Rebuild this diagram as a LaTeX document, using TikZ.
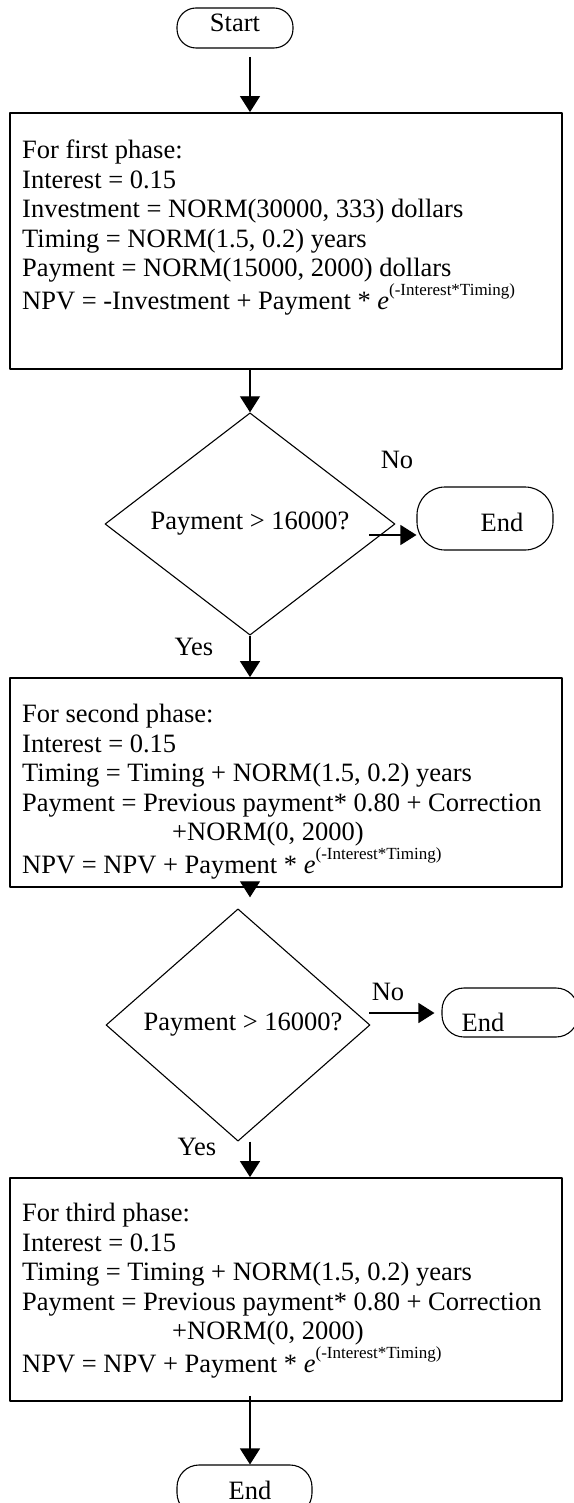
\documentclass[tikz,border=0pt]{standalone}
\usepackage{fontspec}
\setmainfont{Liberation Serif}
\usetikzlibrary{shapes,arrows.meta,calc,positioning}
\tikzset{phasebox/.style={
            draw,
            line width=1.8pt,
            minimum width=552pt,
            inner sep=0pt
        },
        phasetext/.style={
            anchor=north west,
            align=left,
            inner sep=0pt,
            font=\fontsize{26.5}{29.5}\selectfont
        },
        decision/.style={
            draw,
            diamond,
            line width=1.1pt,
            inner sep=0pt,
            font=\fontsize{26.5}{29.5}\selectfont
        },
        terminal/.style={
            draw,
            line width=1.1pt,
            inner sep=0pt,
            label distance=0pt
        },
        flow/.style={
            line width=1.3pt,
            -{Triangle[width=20pt,length=16pt]}
        },
        note/.style={
            inner sep=0pt,
            font=\fontsize{26.5}{29.5}\selectfont
        },
        every label/.style={
            inner sep=0pt,
            font=\fontsize{26.5}{29.5}\selectfont
        }
    }
\newcommand{\expterm}{\textit{e}\raisebox{14pt}{\fontsize{17}{17}\selectfont(-Interest*Timing)}}

\begin{document}
\begin{tikzpicture}[x=1pt,y=-1pt,line join=round]
\useasboundingbox (0,0) rectangle (573,1503);
% terminals
\node[terminal,rounded corners=19pt,minimum width=116pt,minimum height=40pt,
      label={[yshift=5pt]center:Start}] (start) at (235,28) {};
\node[terminal,rounded corners=28pt,minimum width=136pt,minimum height=63pt,
      label={[xshift=17pt,yshift=-3.5pt]center:End}] (end1) at (485,518.5) {};
\node[terminal,rounded corners=22pt,minimum width=136pt,minimum height=49pt,
      label={[xshift=-27pt,yshift=-9.5pt]center:End}] (end2) at (510,1012.5) {};
\node[terminal,rounded corners=22pt,minimum width=135pt,minimum height=50pt,
      label={[xshift=5.5pt]center:End}] (end3) at (244.5,1490) {};
% phase boxes
\node[phasebox,minimum height=256pt] (box1) at (286,241) {};
\node[phasetext] (txt1) at (22,140) {For first phase:\\
Interest = 0.15\\
Investment = NORM(30000, 333) dollars\\
Timing = NORM(1.5, 0.2) years\\
Payment = NORM(15000, 2000) dollars\\
NPV = -Investment + Payment * \expterm};
\node[phasebox,minimum height=209pt] (box2) at (286,782.5) {};
\node[phasetext] (txt2) at (22,704) {For second phase:\\
Interest = 0.15\\
Timing = Timing + NORM(1.5, 0.2) years\\
Payment = Previous payment* 0.80 + Correction\\
\hspace*{150pt}+NORM(0, 2000)\\
NPV = NPV + Payment * \expterm};
\node[phasebox,minimum height=223pt] (box3) at (286,1289.5) {};
\node[phasetext] (txt3) at (22,1203) {For third phase:\\
Interest = 0.15\\
Timing = Timing + NORM(1.5, 0.2) years\\
Payment = Previous payment* 0.80 + Correction\\
\hspace*{150pt}+NORM(0, 2000)\\
NPV = NPV + Payment * \expterm};
% decisions
\node[decision,minimum width=290pt,minimum height=212pt] (dia1) at (250,524) {Payment > 16000?};
\node[decision,minimum width=264pt,minimum height=168pt] (dia2) at (238,1025) {\hspace*{10pt}Payment > 16000?};
% labels
\node[note] (no1lbl) at (397,460) {No};
\node[note] (yes1lbl) at (194,647) {Yes};
\node[note] (no2lbl) at (388,992) {No};
\node[note] (yes2lbl) at (197,1147) {Yes};
% connectors
\coordinate (s1) at (250,57);
\coordinate (s2) at (250,892);
\coordinate (no1) at (369,535);
\coordinate (no2) at (369,1013);
\draw[flow] (s1) -- (s1 |- box1.north);
\draw[flow] (box1.south -| dia1.north) -- (dia1.north);
\draw[flow] (no1) -- (no1 -| end1.west);
\draw[flow] (dia1.south) -- (dia1.south |- box2.north);
\draw[flow] (s2) -- ($(s2 |- dia2.north)+(0,-11)$);
\draw[flow] (no2) -- ($(no2 -| end2.west)+(-7,0)$);
\draw[flow] (dia2.south -| s2) -- (s2 |- box3.north);
\draw[flow] ($(box3.south -| s2)+(0,-6)$) -- (s2 |- end3.north);
\end{tikzpicture}
\end{document}
